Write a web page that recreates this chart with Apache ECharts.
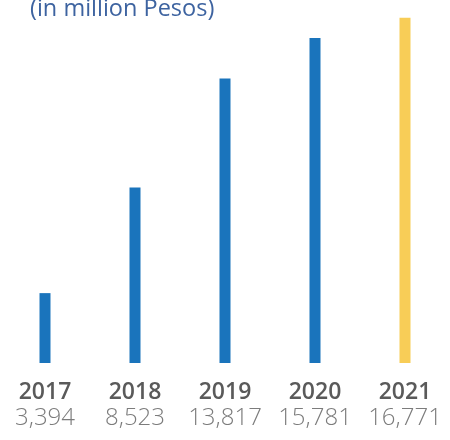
<!DOCTYPE html>
<html>
<head>
<meta charset="utf-8">
<script src="https://cdn.jsdelivr.net/npm/echarts@6/dist/echarts.min.js"></script>
<style>html,body{margin:0;padding:0;background:#fff;}#c{width:450px;height:440px;}</style>
</head>
<body>
<div id="c"></div>
<script>
var years = ['2017', '2018', '2019', '2020', '2021'];
var values = [3394, 8523, 13817, 15781, 16771];
var barColors = ['#1a74bc', '#1a74bc', '#1a74bc', '#1a74bc', '#f8cd57'];
var titleText = '(in million Pesos)';

function fmt(v) { return v.toLocaleString('en-US'); }

var chart = echarts.init(document.getElementById('c'));
chart.setOption({
  animation: false,
  graphic: [{
    type: 'text', left: 30, top: -3,
    style: { text: titleText, fontSize: 23.5, fill: '#3d63a0', fontFamily: 'Open Sans' }
  }],
  grid: { left: -3, right: -13, top: 13, bottom: 77 },
  xAxis: {
    type: 'category', data: years,
    axisLine: { show: false }, axisTick: { show: false },
    axisLabel: {
      margin: 16,
      formatter: function (v, i) { return '{y|' + v + '}\n{v|' + fmt(values[i]) + '}'; },
      rich: {
        y: { fontSize: 23, fontWeight: 600, color: '#5a5a5a', lineHeight: 26, fontFamily: 'Open Sans' },
        v: { fontSize: 24, fontWeight: 300, color: '#7c7c7c', lineHeight: 26, fontFamily: 'Open Sans' }
      }
    }
  },
  yAxis: { type: 'value', min: 0, max: 17000, show: false, splitLine: { show: false } },
  series: [{
    type: 'bar', barWidth: 11,
    data: values.map(function (v, i) { return { value: v, itemStyle: { color: barColors[i] } }; })
  }]
});
</script>
</body>
</html>
